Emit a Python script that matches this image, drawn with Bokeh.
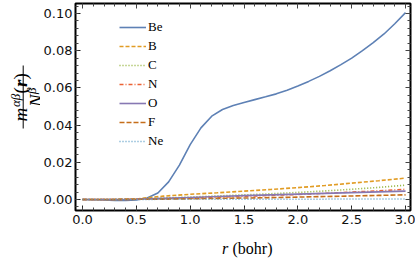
import numpy as np
from bokeh.plotting import figure
from bokeh.layouts import row, column
from bokeh.models import (Range1d, LinearAxis, SingleIntervalTicker, FixedTicker,
                          PrintfTickFormatter, Legend, LegendItem)
from bokeh.core.properties import value
from bokeh.embed import file_html
from bokeh.resources import INLINE

# ---------------- data ----------------
r_be = [0.0, 0.1, 0.2, 0.3, 0.4, 0.5, 0.6, 0.7, 0.8, 0.9, 1.0,
        1.1, 1.2, 1.3, 1.4, 1.5, 1.6, 1.7, 1.8, 1.9, 2.0,
        2.1, 2.2, 2.3, 2.4, 2.5, 2.6, 2.7, 2.8, 2.9, 3.0]
be = [0.0, -0.0001, -0.0003, -0.0005, -0.0005, -0.0003, 0.0008, 0.0035, 0.0095, 0.0185, 0.0295,
      0.0385, 0.0448, 0.0484, 0.0505, 0.0522, 0.0537, 0.0552, 0.0568, 0.0588, 0.0610,
      0.0635, 0.0662, 0.0692, 0.0725, 0.0760, 0.0800, 0.0843, 0.0890, 0.0945, 0.1005]

r_other = [0.0, 0.25, 0.5, 0.75, 1.0, 1.25, 1.5, 1.75, 2.0, 2.25, 2.5, 2.75, 3.0]
b_vals = [0.0, 0.0, 0.0003, 0.0018, 0.0028, 0.0036, 0.0045, 0.0054, 0.0064, 0.0075, 0.0088, 0.0101, 0.0115]
c_vals = [0.0, 0.0, 0.0002, 0.0008, 0.0013, 0.0019, 0.0025, 0.0031, 0.0038, 0.0046, 0.0055, 0.0065, 0.0077]
n_vals = [0.0, 0.0, 0.0001, 0.0004, 0.0008, 0.0012, 0.0017, 0.0022, 0.0027, 0.0033, 0.0040, 0.0047, 0.0055]
o_vals = [0.0, 0.0, 0.0001, 0.0006, 0.0011, 0.0016, 0.0021, 0.0025, 0.0029, 0.0033, 0.0037, 0.0041, 0.0045]
f_vals = [0.0, 0.0, 0.0001, 0.0002, 0.0004, 0.0006, 0.0008, 0.0010, 0.0013, 0.0016, 0.0019, 0.0022, 0.0025]
ne_vals = [0.0, 0.0, 0.0, 0.0001, 0.0001, 0.0001, 0.0002, 0.0002, 0.0002, 0.0002, 0.0003, 0.0003, 0.0003]

series_names = ["Be", "B", "C", "N", "O", "F", "Ne"]
x_title = ["r", "(bohr)"]
y_title_num = ["m", "αβ", "(", "r", ")"]
y_title_den = ["N", "β"]
x_tick_step = 0.5
y_tick_step = 0.02

SERIF = "Liberation Serif"
TICK_FONT = "DejaVu Sans"

# ---------------- main figure ----------------
p = figure(width=375, height=230, output_backend="svg", toolbar_location=None,
           x_range=Range1d(-0.065, 3.046), y_range=Range1d(-0.00591, 0.10538),
           min_border_left=35, min_border_right=5, min_border_top=3, min_border_bottom=20,
           background_fill_color="white", border_fill_color="white")
p.xgrid.visible = False
p.ygrid.visible = False
p.outline_line_color = "black"
p.outline_line_width = 2


def style_ticks(ax):
    ax.axis_line_color = None
    ax.major_tick_in = 5
    ax.major_tick_out = 0
    ax.minor_tick_in = 3
    ax.minor_tick_out = 0
    ax.major_tick_line_color = "#222222"
    ax.minor_tick_line_color = "#444444"
    ax.major_tick_line_width = 1
    ax.minor_tick_line_width = 1


p.xaxis.ticker = SingleIntervalTicker(interval=x_tick_step, num_minor_ticks=5)
p.xaxis.formatter = PrintfTickFormatter(format="%.1f")
p.yaxis.ticker = SingleIntervalTicker(interval=y_tick_step, num_minor_ticks=5)
p.yaxis.formatter = PrintfTickFormatter(format="%.2f")
for ax, so in ((p.xaxis[0], 4), (p.yaxis[0], 3)):
    style_ticks(ax)
    ax.major_label_text_font = TICK_FONT
    ax.major_label_text_font_size = "13px"
    ax.major_label_text_color = "#111111"
    ax.major_label_standoff = so

# unlabeled ticks on the top and right edges of the frame
x_major = [i * x_tick_step for i in range(7)]
x_minor = [round(v, 2) for v in np.arange(0.1, 3.0, 0.1) if abs(v / x_tick_step - round(v / x_tick_step)) > 1e-6]
y_major = [round(i * y_tick_step, 3) for i in range(6)]
y_minor = [round(v, 3) for v in np.arange(-0.004, 0.105, 0.004) if abs(v / y_tick_step - round(v / y_tick_step)) > 1e-6]

for side, majors, minors in (("above", x_major, x_minor), ("right", y_major, y_minor)):
    for ticks, length in ((majors, 5), (minors, 3)):
        ax = LinearAxis(ticker=FixedTicker(ticks=[], minor_ticks=ticks))
        style_ticks(ax)
        ax.minor_tick_in = length
        ax.major_label_standoff = 0
        p.add_layout(ax, side)

# ---------------- lines ----------------
styles = [
    ("#5E81B5", "solid", 1.6),
    ("#E19C24", "4 2", 1.6),
    ("#8FB032", "1 2", 1.6),
    ("#EB6235", "4 2 1 2", 1.5),
    ("#8778B3", "solid", 1.6),
    ("#C56E1A", "5 2", 1.6),
    ("#5D9EC7", "1 2", 1.5),
]
data = [(r_be, be), (r_other, b_vals), (r_other, c_vals), (r_other, n_vals),
        (r_other, o_vals), (r_other, f_vals), (r_other, ne_vals)]

renderers = []
for (xs, ys), (col, dash, lw) in zip(data, styles):
    renderers.append(p.line(xs, ys, line_color=col, line_dash=dash, line_width=lw))

items = [LegendItem(label=n, renderers=[r]) for n, r in zip(series_names, renderers)]
legend = Legend(items=items, location=(44, 61), padding=0, margin=0, spacing=3,
                label_height=16, glyph_height=16, glyph_width=27, label_standoff=2,
                label_text_font=SERIF, label_text_font_size="13px",
                label_text_color="black", background_fill_alpha=0, border_line_color=None)
p.add_layout(legend, "center")

# ---------------- y title strip (left) ----------------
# the row aligns this strip's frame with the main frame (page y 3..210); use -page_y as y
H = 230
q = figure(width=40, height=H, output_backend="svg", toolbar_location=None,
           x_range=Range1d(0, 40), y_range=Range1d(-210, -3),
           min_border=0, min_border_top=3, min_border_bottom=20,
           x_axis_location=None, y_axis_location=None,
           outline_line_color=None, background_fill_color="white", border_fill_color="white")
q.xgrid.visible = False
q.ygrid.visible = False
ang = np.pi / 2  # counter-clockwise: reads bottom-to-top
# pieces: (x of baseline, -page y where text starts, style, size)
num_pos = [(19.5, -121.0, "italic", "19px"),
           (14.5, -106.5, "italic", "13px"),
           (19.5, -93.0, "normal", "19px"),
           (19.5, -86.5, "bold italic", "19px"),
           (19.5, -79.0, "normal", "19px")]
for t, (x, y, st, sz) in zip(y_title_num, num_pos):
    q.text(x=[x], y=[y], text=[t], angle=ang, text_font=value(SERIF), text_font_style=st,
           text_font_size=sz, text_align="left", text_baseline="alphabetic", text_color="black")
den_pos = [(35.5, -106.5, "italic", "19px"),
           (30.5, -93.5, "italic", "13px")]
for t, (x, y, st, sz) in zip(y_title_den, den_pos):
    q.text(x=[x], y=[y], text=[t], angle=ang, text_font=value(SERIF), text_font_style=st,
           text_font_size=sz, text_align="left", text_baseline="alphabetic", text_color="black")
q.segment(x0=[22.7], y0=[-65], x1=[22.7], y1=[-128], line_color="black", line_width=1)

# ---------------- x title strip (bottom) ----------------
b = figure(width=415, height=28, output_backend="svg", toolbar_location=None,
           x_range=Range1d(0, 415), y_range=Range1d(0, 28),
           min_border=0, x_axis_location=None, y_axis_location=None,
           outline_line_color=None, background_fill_color="white", border_fill_color="white")
b.xgrid.visible = False
b.ygrid.visible = False
b.text(x=[221.5], y=[10], text=[x_title[0]], text_font=value(SERIF), text_font_style="italic",
       text_font_size="16px", text_align="left", text_baseline="alphabetic", text_color="black")
b.text(x=[232.0], y=[10], text=[x_title[1]], text_font=value(SERIF), text_font_style="normal",
       text_font_size="16px", text_align="left", text_baseline="alphabetic", text_color="black")

layout = column(row(q, p, spacing=0), b, spacing=0)
open("out.html", "w").write(file_html(layout, INLINE))
